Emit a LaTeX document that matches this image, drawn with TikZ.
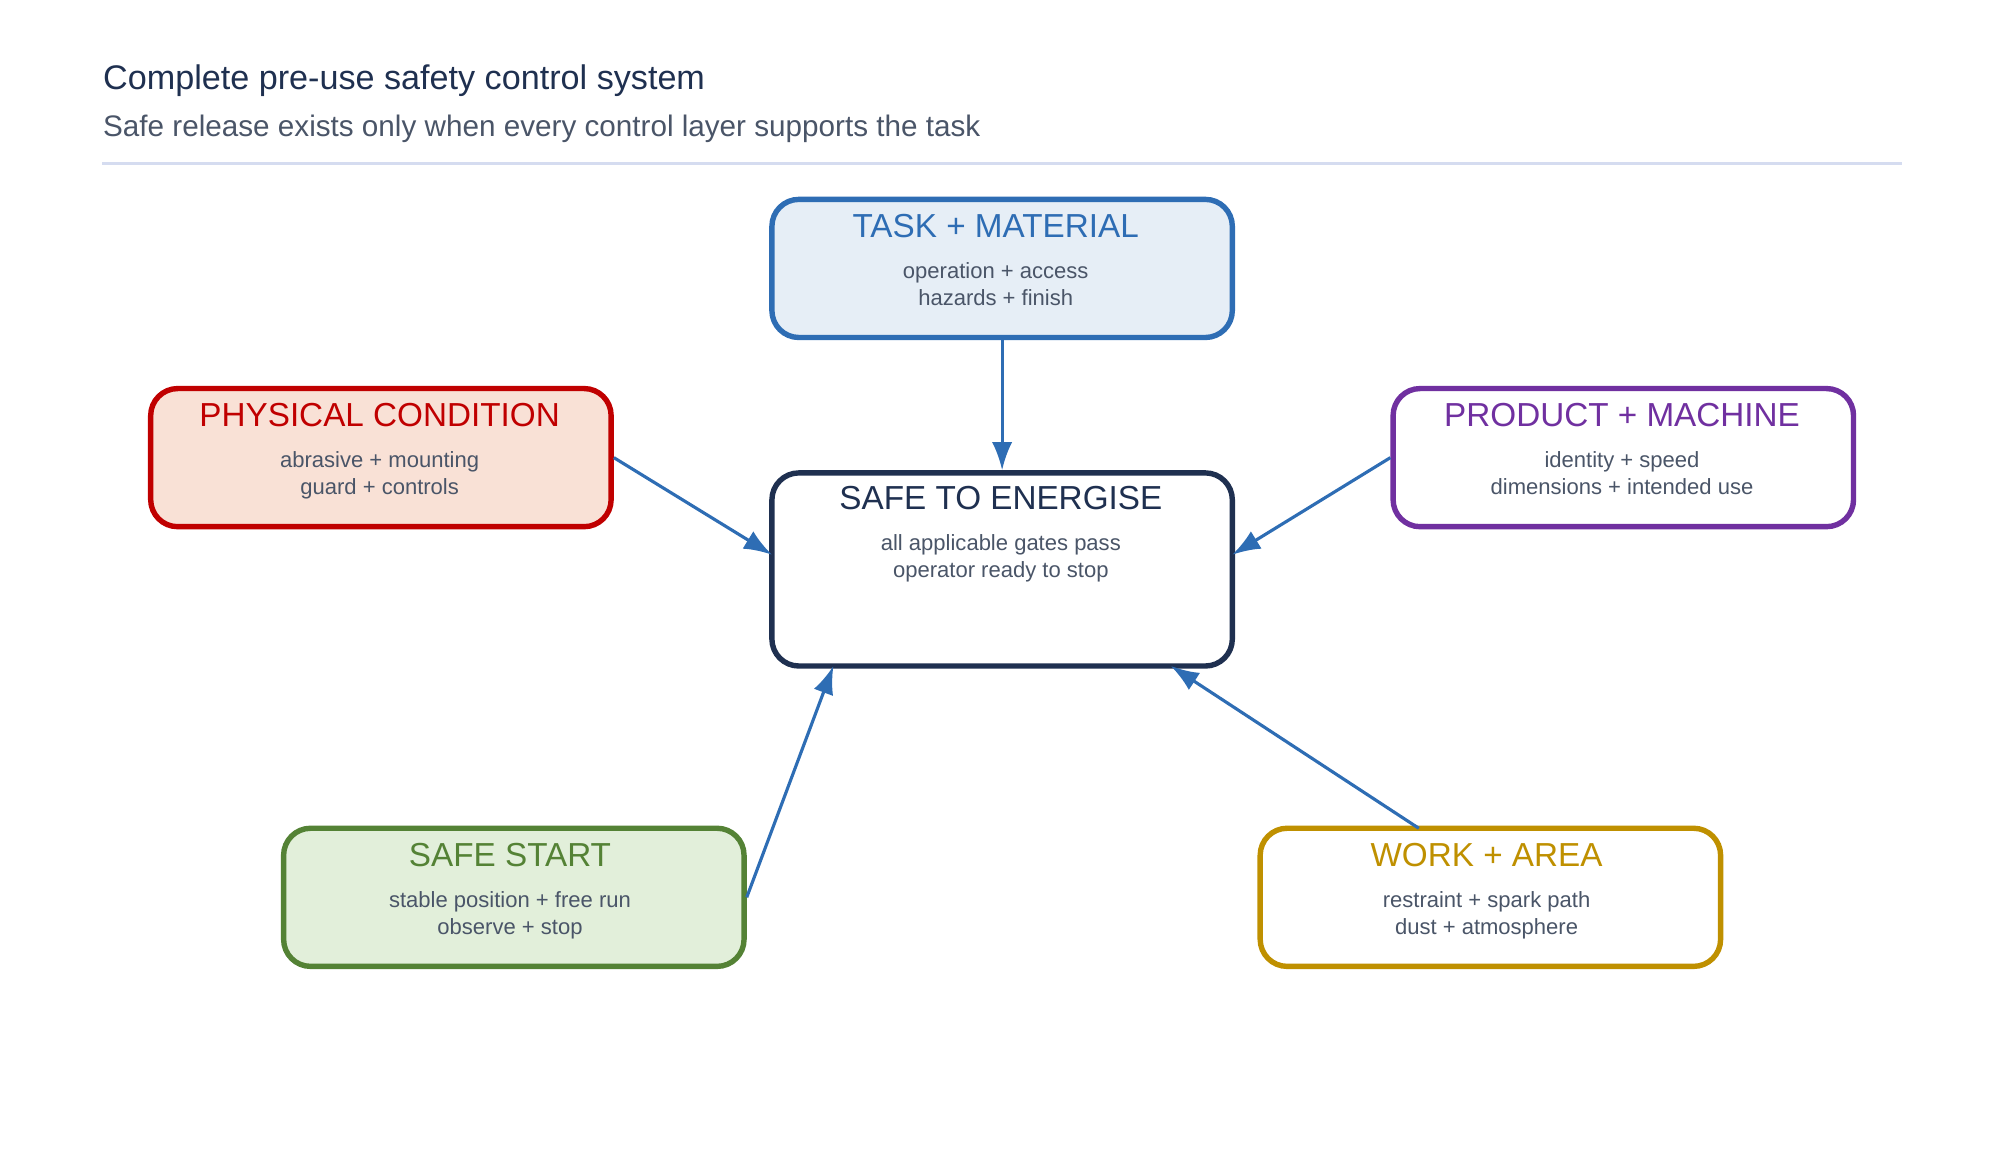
\documentclass[tikz,border=0pt]{standalone}
\usepackage{fontspec}
\setmainfont{Liberation Sans}
\usetikzlibrary{arrows.meta, positioning}
\definecolor{mnavy}{HTML}{1F3050}
\definecolor{mgrey}{HTML}{4A5568}
\definecolor{mrule}{HTML}{D5DCF0}
\definecolor{mblue}{HTML}{2E6DB4}
\definecolor{mbluefill}{HTML}{E6EEF6}
\definecolor{mred}{HTML}{C00000}
\definecolor{mredfill}{HTML}{F9E1D6}
\definecolor{mpurp}{HTML}{7030A0}
\definecolor{mgreen}{HTML}{548235}
\definecolor{mgreenfill}{HTML}{E2EFDA}
\definecolor{mgold}{HTML}{BF9000}
\tikzset{
  layer/.style = {rectangle, rounded corners=6pt, line width=1.2pt, minimum width=3.6cm, minimum height=1.08cm, inner sep=0pt},
  head/.style = {font=\fontsize{7.4}{8}\selectfont, anchor=north, inner sep=0pt},
  body/.style = {font=\fontsize{4.9}{6}\selectfont, text=mgrey, align=center, anchor=north, inner sep=0pt},
  feed/.style = {draw=mblue, line width=0.7pt, -{Latex[length=2.2mm,width=1.6mm]}}
}
\begin{document}
\begin{tikzpicture}[x=0.01cm, y=-0.01cm]
\useasboundingbox (0,0) rectangle (1560,908);
% heading
\node (title) [anchor=west, inner sep=0pt, text=mnavy, font=\fontsize{7.6}{9}\selectfont] at (80,63) {Complete pre-use safety control system};
\node (sub) [anchor=west, inner sep=0pt, text=mgrey, font=\fontsize{6.6}{8}\selectfont] at (80,101) {Safe release exists only when every control layer supports the task};
\draw [mrule, line width=0.8pt] (80,128) -- (1488,128);
% layers
\node (task) [layer, draw=mblue, fill=mbluefill] at (784,210) {};
\node (phys) [layer, draw=mred, fill=mredfill] at (298,358) {};
\node (prod) [layer, draw=mpurp, fill=white] at (1270,358) {};
\node (safe) [layer, draw=mnavy, fill=white, minimum height=1.51cm] at (784,445.5) {};
\node (start) [layer, draw=mgreen, fill=mgreenfill] at (402,702) {};
\node (work) [layer, draw=mgold, fill=white] at (1166,702) {};
% texts
\node (taskh) [head, text=mblue] at (779,167) {TASK + MATERIAL};
\node (taskb) [body, below=5pt of taskh.south] {operation + access\\hazards + finish};
\node (physh) [head, text=mred] at (297,315) {PHYSICAL CONDITION};
\node (physb) [body, below=5pt of physh.south] {abrasive + mounting\\guard + controls};
\node (prodh) [head, text=mpurp] at (1269,315) {PRODUCT + MACHINE};
\node (prodb) [body, below=5pt of prodh.south] {identity + speed\\dimensions + intended use};
\node (safeh) [head, text=mnavy] at (783,380) {SAFE TO ENERGISE};
\node (safeb) [body, below=5pt of safeh.south] {all applicable gates pass\\operator ready to stop};
\node (starth) [head, text=mgreen] at (399,659) {SAFE START};
\node (startb) [body, below=5pt of starth.south] {stable position + free run\\observe + stop};
\node (workh) [head, text=mgold] at (1163,659) {WORK + AREA};
\node (workb) [body, below=5pt of workh.south] {restraint + spark path\\dust + atmosphere};
% links
\draw [feed] (task.south) -- (safe.north);
\draw [feed] (phys.east) -- (604,434);
\draw [feed] (prod.west) -- (964,434);
\draw [feed] (start.east) -- (652,521);
\draw [feed] (1110,648) -- (916,521);
\end{tikzpicture}
\end{document}
